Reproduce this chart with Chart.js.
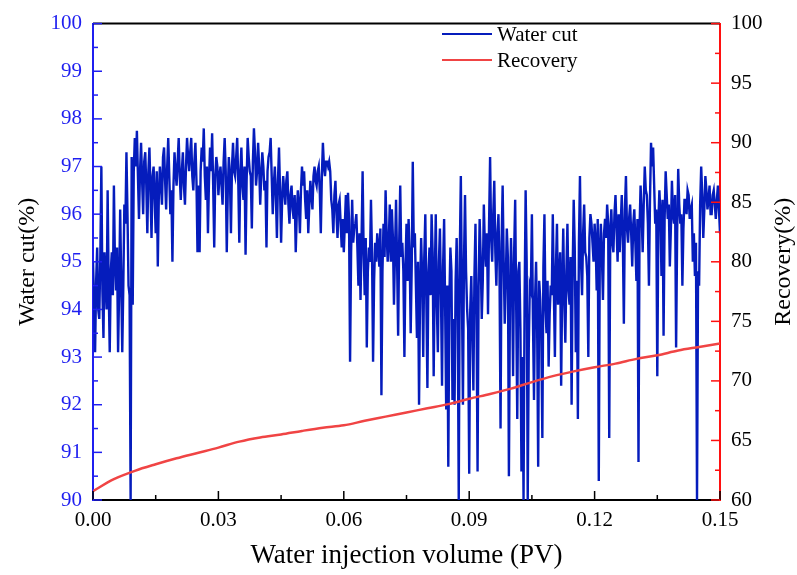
<!DOCTYPE html>
<html>
<head>
<meta charset="utf-8">
<title>Water cut and recovery</title>
<script src="https://cdn.jsdelivr.net/npm/chart.js@4.4.1/dist/chart.umd.min.js"></script>
<style>
  body { margin: 0; background: #fff; }
  canvas { display: block; }
</style>
</head>
<body>
<canvas id="wc_chart" width="797" height="575"></canvas>
<script>
// water cut sampled every 0.00025 PV, starting at 0
var wcStep = 0.00025;
var waterCut = [
  95.0, 94.2, 93.1, 94.6, 95.3, 94.0, 93.8, 95.1, 97.0, 94.4, 93.4, 95.2, 94.6, 94.0, 96.5, 94.5, 93.1, 94.8, 95.2, 94.3,
  96.6, 95.0, 94.4, 95.3, 93.1, 94.4, 96.1, 94.6, 93.1, 94.5, 96.2, 95.8, 97.3, 96.0, 94.5, 94.3, 90.0, 97.2, 94.1, 96.9,
  97.6, 97.0, 97.75, 96.8, 95.9, 96.9, 97.5, 96.7, 96.0, 97.1, 97.3, 96.6, 95.6, 96.9, 97.4, 96.5, 95.5, 96.8, 97.0, 96.3,
  95.6, 96.9, 94.9, 96.4, 97.0, 96.6, 96.2, 97.2, 97.4, 96.7, 96.1, 97.0, 97.6, 96.8, 96.0, 96.5, 95.0, 96.6, 97.3, 96.9,
  96.6, 97.1, 97.6, 96.8, 96.3, 96.9, 97.3, 96.6, 96.2, 97.0, 97.6, 97.2, 96.9, 97.3, 97.6, 96.8, 96.5, 97.1, 97.5, 96.7,
  95.2, 96.6, 95.2, 96.9, 97.4, 97.1, 97.8, 96.8, 96.3, 97.0, 95.6, 96.7, 97.4, 96.9, 97.7, 96.6, 95.3, 96.8, 97.2, 97.0,
  96.4, 96.8, 97.0, 96.6, 96.2, 97.1, 97.6, 96.9, 95.2, 96.5, 97.2, 96.8, 95.6, 97.0, 97.5, 96.9, 96.8, 97.2, 97.6, 96.7,
  95.4, 96.9, 97.4, 96.6, 96.3, 97.0, 95.15, 96.7, 97.6, 97.2, 96.9, 96.8, 95.7, 97.1, 97.8, 97.3, 96.6, 96.9, 97.5, 97.0,
  96.2, 96.8, 97.3, 97.0, 96.5, 96.7, 95.3, 96.9, 97.2, 97.3, 97.6, 96.8, 96.0, 96.6, 97.0, 96.4, 95.5, 96.7, 97.4, 96.5,
  95.4, 96.3, 96.8, 96.5, 96.2, 96.7, 96.9, 96.2, 95.8, 96.4, 96.6, 96.1, 95.9, 96.4, 95.2, 96.0, 96.5, 96.2, 95.6, 96.5,
  97.0, 96.6, 96.9, 96.3, 95.9, 96.5, 95.6, 96.2, 96.7, 96.4, 96.1, 96.8, 97.0, 96.7, 96.6, 96.9, 97.0, 96.5, 95.6, 96.8,
  97.5, 97.0, 96.8, 97.1, 97.1, 97.0, 97.1, 96.9, 96.3, 96.1, 95.6, 96.4, 96.7, 96.0, 95.5, 96.2, 96.3, 95.8, 95.3, 95.9,
  95.2, 95.8, 96.4, 95.6, 96.45, 95.9, 92.9, 95.2, 96.3, 95.4, 95.7, 95.8, 96.0, 95.3, 94.5, 95.6, 94.2, 95.5, 96.9, 95.2,
  94.3, 95.5, 93.2, 94.8, 95.3, 95.0, 96.3, 95.2, 92.9, 94.6, 95.4, 95.0, 95.6, 95.3, 94.9, 95.7, 92.2, 94.8, 95.8, 95.1,
  96.5, 95.6, 95.0, 95.4, 96.2, 95.0, 96.1, 95.5, 94.1, 95.2, 96.3, 95.0, 93.45, 95.4, 96.6, 95.1, 95.4, 94.8, 93.0, 94.9,
  95.8, 94.6, 95.9, 95.2, 93.5, 94.9, 97.1, 95.3, 95.6, 94.5, 93.4, 95.0, 92.0, 94.4, 95.5, 94.7, 93.0, 95.1, 96.0, 94.2,
  92.35, 94.8, 95.3, 94.3, 96.0, 95.2, 92.6, 94.6, 96.0, 94.1, 93.1, 95.0, 95.7, 94.3, 92.4, 94.9, 95.9, 94.0, 91.9, 94.5,
  90.7, 94.2, 95.3, 94.8, 92.1, 93.8, 92.0, 94.6, 95.5, 94.0, 90.0, 95.2, 96.8, 94.4, 92.0, 95.0, 96.4, 94.8, 94.0, 93.6,
  90.55, 94.0, 94.7, 93.5, 92.3, 94.7, 95.8, 93.9, 90.6, 94.5, 95.9, 95.1, 93.8, 94.6, 96.2, 95.3, 94.9, 95.6, 93.9, 95.8,
  97.2, 95.5, 95.0, 96.0, 96.7, 95.2, 94.5, 95.6, 96.0, 94.8, 91.5, 95.4, 96.6, 95.0, 93.7, 94.6, 95.7, 95.1, 90.5, 94.2,
  95.5, 94.6, 92.6, 95.2, 96.3, 94.0, 91.7, 94.8, 95.0, 93.6, 90.6, 93.0, 90.0, 94.2, 96.5, 95.0, 90.0, 93.2, 94.5, 94.4,
  96.0, 93.8, 92.1, 94.2, 95.0, 93.7, 90.7, 94.6, 94.2, 93.4, 91.3, 94.9, 96.0, 94.0, 93.5, 94.6, 92.8, 93.9, 94.5, 94.3,
  96.0, 94.4, 93.0, 94.9, 95.8, 94.1, 94.6, 95.2, 92.4, 94.5, 95.7, 94.2, 93.3, 94.8, 95.8, 94.4, 94.1, 95.1, 92.0, 94.8,
  96.3, 95.3, 93.1, 94.6, 91.7, 95.4, 96.8, 95.0, 94.3, 95.6, 96.2, 95.2, 95.1, 94.7, 93.0, 95.5, 96.0, 95.8, 95.4, 95.0,
  95.8, 95.4, 94.4, 95.9, 90.4, 95.3, 95.8, 95.1, 94.2, 95.6, 95.9, 95.5, 96.2, 95.8, 91.3, 95.6, 96.1, 95.4, 95.2, 96.0,
  96.4, 95.7, 95.0, 96.0, 95.2, 95.8, 96.4, 95.5, 93.7, 96.1, 96.8, 95.7, 95.4, 95.9, 96.2, 95.6, 94.9, 95.8, 96.1, 95.4,
  94.6, 95.9, 90.8, 95.7, 96.6, 96.0, 95.2, 96.2, 97.0, 96.5, 96.4, 95.8, 94.5, 96.3, 97.5, 97.0, 97.4, 96.6, 95.8, 96.1,
  92.6, 95.8, 96.5, 96.0, 94.7, 96.3, 93.45, 95.9, 96.9, 96.4, 95.9, 96.2, 94.9, 95.7, 96.7, 96.0, 95.8, 96.4, 93.2, 95.6,
  96.95, 96.2, 95.8, 96.0, 94.5, 95.7, 96.3, 96.3, 96.0, 96.5, 96.4, 95.9, 96.1, 96.2, 95.0, 95.6, 94.7, 95.4, 90.0, 94.8,
  94.5, 96.2, 97.0, 96.4, 95.5, 96.1, 96.8, 96.5, 96.1, 96.3, 96.6, 96.0, 96.0, 96.4, 96.5, 96.2, 95.9, 96.3, 96.6, 96.1,
  95.6
];

var recoveryPV = [
  0, 0.005, 0.01, 0.015, 0.02, 0.025, 0.03, 0.035, 0.04, 0.045,
  0.05, 0.055, 0.06, 0.065, 0.07, 0.075, 0.08, 0.085, 0.09, 0.095,
  0.1, 0.105, 0.11, 0.115, 0.12, 0.125, 0.13, 0.135, 0.14, 0.145, 0.15
];
var recovery = [
  60.75, 61.75, 62.45, 63.0, 63.5, 63.95, 64.4, 64.9, 65.25, 65.5,
  65.8, 66.07, 66.27, 66.65, 67.0, 67.35, 67.7, 68.05, 68.5, 68.9,
  69.35, 69.9, 70.4, 70.8, 71.15, 71.45, 71.85, 72.15, 72.55, 72.85, 73.15
];

var xTicks = { min: 0, max: 0.15, major: 0.03 };
var wcTicks = { min: 90, max: 100, major: 1 };
var recTicks = { min: 60, max: 100, major: 5 };

var BLUE_LINE = '#051cbc';
var BLUE_AXIS = '#1f1ff0';
var RED_LINE = '#f04444';
var RED_AXIS = '#ff1010';
var SERIF = "'Liberation Serif', 'Times New Roman', serif";

var wcPoints = waterCut.map(function (v, i) { return { x: i * wcStep, y: v }; });
var recPoints = recovery.map(function (v, i) { return { x: recoveryPV[i], y: v }; });

// inward major/minor tick marks, plus the top frame line
var innerTicks = {
  id: 'innerTicks',
  afterDatasetsDraw: function (chart) {
    var ctx = chart.ctx;
    var a = chart.chartArea;
    ctx.save();
    ctx.lineWidth = 2;
    ctx.strokeStyle = '#000';
    ctx.beginPath();
    ctx.moveTo(a.left, a.top);
    ctx.lineTo(a.right, a.top);
    ctx.stroke();

    var sets = [
      { id: 'x', t: xTicks, color: '#000', side: 'bottom' },
      { id: 'y', t: wcTicks, color: BLUE_AXIS, side: 'left' },
      { id: 'y1', t: recTicks, color: RED_AXIS, side: 'right' }
    ];
    ctx.lineWidth = 1.5;
    sets.forEach(function (s) {
      var scale = chart.scales[s.id];
      var minor = s.t.major / 2;
      var n = Math.round((s.t.max - s.t.min) / minor);
      ctx.strokeStyle = s.color;
      for (var k = 0; k <= n; k++) {
        var p = scale.getPixelForValue(s.t.min + k * minor);
        var len = k % 2 === 0 ? 9 : 5;
        ctx.beginPath();
        if (s.side === 'bottom') {
          ctx.moveTo(p, a.bottom);
          ctx.lineTo(p, a.bottom - len);
        } else if (s.side === 'left') {
          ctx.moveTo(a.left, p);
          ctx.lineTo(a.left + len, p);
        } else {
          ctx.moveTo(a.right, p);
          ctx.lineTo(a.right - len, p);
        }
        ctx.stroke();
      }
    });
    ctx.restore();
  },
  afterDraw: function (chart) {
    var ctx = chart.ctx;
    ctx.save();
    // legend
    var items = [
      { text: 'Water cut', color: BLUE_LINE, y: 34 },
      { text: 'Recovery', color: RED_LINE, y: 60 }
    ];
    ctx.font = '21px ' + SERIF;
    ctx.textBaseline = 'middle';
    ctx.textAlign = 'left';
    items.forEach(function (it) {
      ctx.strokeStyle = it.color;
      ctx.lineWidth = 2.2;
      ctx.beginPath();
      ctx.moveTo(442, it.y);
      ctx.lineTo(492, it.y);
      ctx.stroke();
      ctx.fillStyle = '#000';
      ctx.fillText(it.text, 497, it.y + 1);
    });
    // right axis title, reads bottom to top
    var a = chart.chartArea;
    ctx.translate(784, (a.top + a.bottom) / 2);
    ctx.rotate(-Math.PI / 2);
    ctx.font = '24px ' + SERIF;
    ctx.textAlign = 'center';
    ctx.fillText('Recovery(%)', 0, 0);
    ctx.restore();
  }
};

var ctx = document.getElementById('wc_chart').getContext('2d');
var chart = new Chart(ctx, {
  type: 'line',
  data: {
    datasets: [{
      label: 'Water cut',
      data: wcPoints,
      yAxisID: 'y',
      borderColor: BLUE_LINE,
      borderWidth: 2.4,
      pointRadius: 0,
      tension: 0,
      order: 1
    }, {
      label: 'Recovery',
      data: recPoints,
      yAxisID: 'y1',
      borderColor: RED_LINE,
      borderWidth: 2.5,
      pointRadius: 0,
      cubicInterpolationMode: 'monotone',
      order: 0
    }]
  },
  options: {
    responsive: false,
    animation: false,
    devicePixelRatio: 1,
    layout: { padding: { top: 17, left: 0, right: 0, bottom: 0 } },
    plugins: {
      legend: { display: false },
      tooltip: { enabled: false }
    },
    scales: {
      x: {
        type: 'linear',
        min: xTicks.min,
        max: xTicks.max,
        afterFit: function (s) { s.height = 75; },
        grid: { display: false, drawTicks: false },
        border: { color: '#000', width: 2 },
        ticks: {
          stepSize: xTicks.major,
          padding: 8,
          color: '#000',
          font: { family: SERIF, size: 21 },
          callback: function (v) { return v.toFixed(2); }
        },
        title: {
          display: true,
          text: 'Water injection volume (PV)',
          color: '#000',
          font: { family: SERIF, size: 27 },
          padding: { top: 0, bottom: 3 }
        }
      },
      y: {
        position: 'left',
        min: wcTicks.min,
        max: wcTicks.max,
        afterFit: function (s) { s.width = 93; },
        grid: { display: false, drawTicks: false },
        border: { color: BLUE_AXIS, width: 2 },
        ticks: {
          stepSize: wcTicks.major,
          padding: 11,
          color: BLUE_AXIS,
          font: { family: SERIF, size: 21 }
        },
        title: {
          display: true,
          text: 'Water cut(%)',
          color: '#000',
          font: { family: SERIF, size: 24 },
          padding: { top: 13, bottom: 0 }
        }
      },
      y1: {
        position: 'right',
        min: recTicks.min,
        max: recTicks.max,
        afterFit: function (s) { s.width = 77; },
        grid: { display: false, drawTicks: false },
        border: { color: RED_AXIS, width: 2 },
        ticks: {
          stepSize: recTicks.major,
          padding: 11,
          color: '#000',
          font: { family: SERIF, size: 21 }
        }
      }
    }
  },
  plugins: [innerTicks]
});
</script>
</body>
</html>
